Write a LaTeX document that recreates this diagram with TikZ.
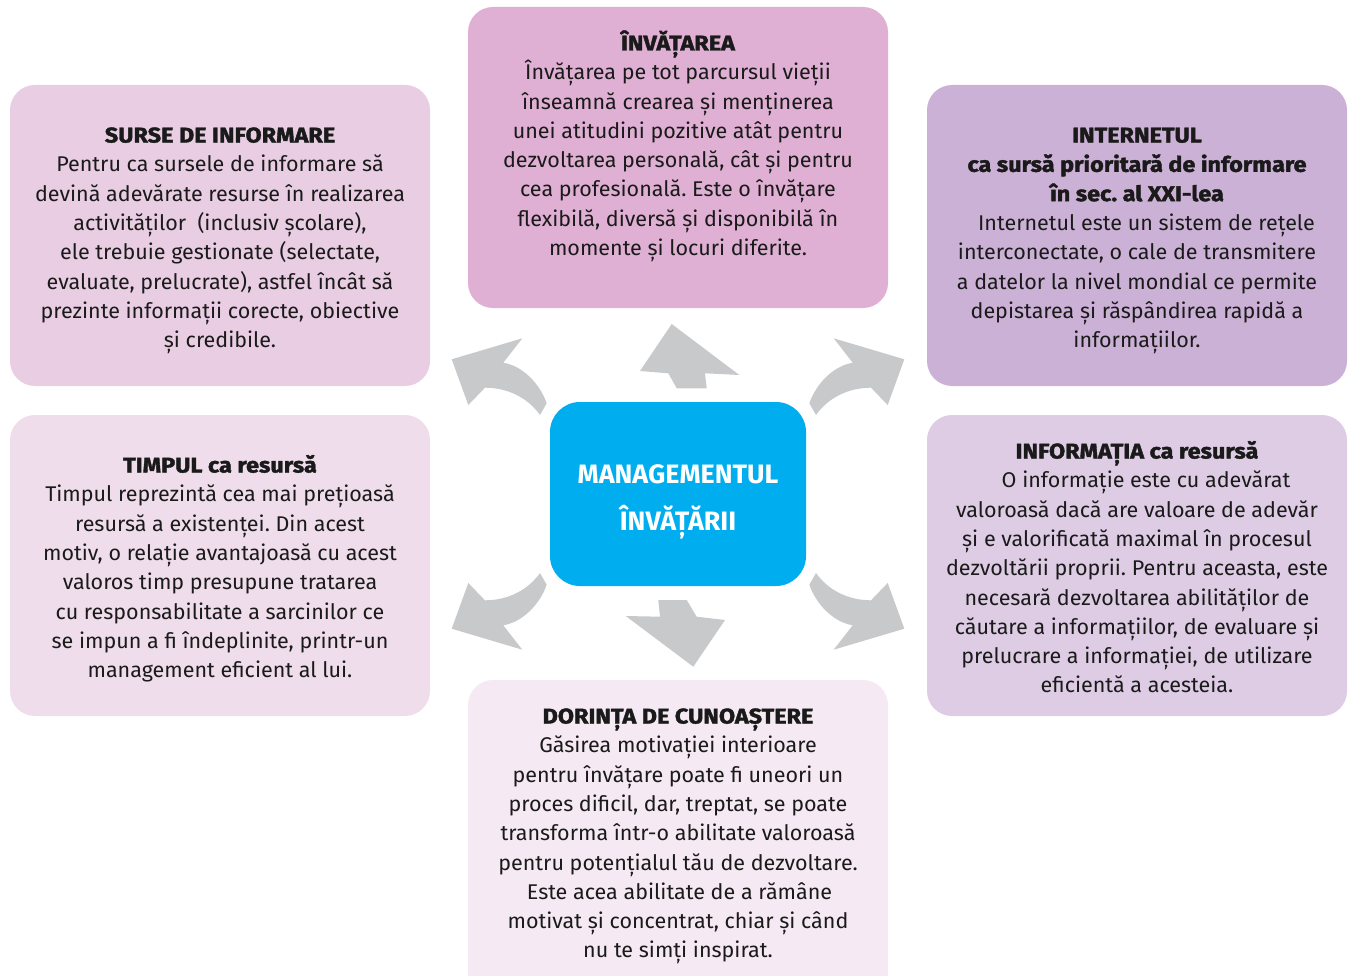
\documentclass[tikz,border=0pt]{standalone}
\usepackage{fontspec}
\setmainfont{Fira Sans}[FakeStretch=1.01]
\newfontfamily\headfont{Fira Sans}[FakeStretch=1.1, BoldFeatures={FakeBold=1.8}]
\frenchspacing
\definecolor{cTop}{HTML}{DFB0D3}
\definecolor{cSurse}{HTML}{E8CDE3}
\definecolor{cNet}{HTML}{CCB1D6}
\definecolor{cTimp}{HTML}{EFDDEB}
\definecolor{cInfo}{HTML}{DDCCE4}
\definecolor{cDor}{HTML}{F5E9F3}
\definecolor{cMid}{HTML}{00AEEF}
\definecolor{cArrow}{HTML}{C8C9CB}
\definecolor{cText}{HTML}{1A1A1A}
\newcommand{\hd}[1]{{\headfont\bfseries #1}}
\tikzset{
  box/.style={rectangle, rounded corners=25pt, minimum width=420pt, minimum height=301pt, inner sep=0pt, draw=none},
  txt/.style={anchor=north, inner sep=0pt, align=center, text=cText, font=\fontsize{21.3}{29.3}\selectfont\frenchspacing},
  curvarrow/.pic={
    \fill[cArrow] (-226.3,-134.7) -- (-155.7,-155.7) -- (-174.7,-131.3)
      .. controls (-155,-128) and (-138,-110) .. (-131.3,-90.7)
      -- (-138,-79)
      .. controls (-150,-96) and (-170,-106.3) .. (-193,-106.3)
      -- (-209.7,-89) -- cycle;
  }
}
\begin{document}
\begin{tikzpicture}[x=1pt,y=-1pt]
\useasboundingbox (0,0) rectangle (1354,976);
\clip (0,0) rectangle (1354,976);
% boxes
\node[box, fill=cTop] (top) at (678,157.5) {};
\node[box, fill=cSurse] (surse) at (220,235.5) {};
\node[box, fill=cNet] (net) at (1137,235.5) {};
\node[box, fill=cTimp] (timp) at (220,565.5) {};
\node[box, fill=cInfo] (info) at (1137,565.5) {};
\node[box, fill=cDor, minimum height=340pt] (dor) at (678,850) {};
\node[rectangle, rounded corners=30pt, minimum width=256pt, minimum height=184pt, inner sep=0pt, fill=cMid] (mid) at (678,494) {};
% arrows
\pic at (678,494) {curvarrow};
\pic[xscale=-1] at (678,494) {curvarrow};
\pic[yscale=-1] at (678,494) {curvarrow};
\pic[xscale=-1,yscale=-1] at (678,494) {curvarrow};
\fill[cArrow] (671.7,324) -- (739.3,375) -- (705,373.3) -- (706.7,388.3) -- (676.7,388.3) -- (668.3,373.3) -- (640,371) -- cycle;
\fill[cArrow] (658.3,600) -- (686.7,600) -- (696.7,616.7) -- (725,620) -- (693.3,666.7) -- (625.7,616) -- (660,616.7) -- cycle;
% texts
\node[txt] (topT) at (678,28.3) {\rule{0pt}{22pt}\hd{ÎNVĂȚAREA}\\
Învățarea pe tot parcursul vieții\\
înseamnă crearea și menținerea\\
unei atitudini pozitive atât pentru\\
dezvoltarea personală, cât și pentru\\
cea profesională. Este o învățare\\
flexibilă, diversă și disponibilă în\\
momente și locuri diferite.};
\node[txt] (surseT) at (220,120.3) {\rule{0pt}{22pt}\hd{SURSE DE INFORMARE}\\
Pentru ca sursele de informare să\\
devină adevărate resurse în realizarea\\
activităților\ \ (inclusiv școlare),\\
ele trebuie gestionate (selectate,\\
evaluate, prelucrate), astfel încât să\\
prezinte informații corecte, obiective\\
și credibile.};
\node[txt] (netT) at (1137,120.3) {\rule{0pt}{22pt}\hd{INTERNETUL}\\
\hd{ca sursă prioritară de informare}\\
\hd{în sec. al XXI-lea}\\
\hspace*{19pt}Internetul este un sistem de rețele\\
interconectate, o cale de transmitere\\
a datelor la nivel mondial ce permite\\
depistarea și răspândirea rapidă a\\
informațiilor.};
\node[txt] (timpT) at (220,450.3) {\rule{0pt}{22pt}\hd{TIMPUL ca resursă}\\
Timpul reprezintă cea mai prețioasă\\
resursă a existenței. Din acest\\
motiv, o relație avantajoasă cu acest\\
valoros timp presupune tratarea\\
cu responsabilitate a sarcinilor ce\\
se impun a fi îndeplinite, printr-un\\
management eficient al lui.};
\node[txt] (infoT) at (1137,436.3) {\rule{0pt}{22pt}\hd{INFORMAȚIA ca resursă}\\
\hspace*{18pt}O informație este cu adevărat\\
valoroasă dacă are valoare de adevăr\\
și e valorificată maximal în procesul\\
dezvoltării proprii. Pentru aceasta, este\\
necesară dezvoltarea abilităților de\\
căutare a informațiilor, de evaluare și\\
prelucrare a informației, de utilizare\\
eficientă a acesteia.};
\node[txt] (dorT) at (678,701.3) {\rule{0pt}{22pt}\hd{DORINȚA DE CUNOAȘTERE}\\
Găsirea motivației interioare\\
pentru învățare poate fi uneori un\\
proces dificil, dar, treptat, se poate\\
transforma într-o abilitate valoroasă\\
pentru potențialul tău de dezvoltare.\\
\hspace*{3pt}Este acea abilitate de a rămâne\\
motivat și concentrat, chiar și când\\
nu te simți inspirat.};
\node[anchor=north, inner sep=0pt, align=center, text=white, font=\fontsize{26.6}{47.4}\selectfont\bfseries] (midT) at (678,457.3) {\rule{0pt}{26pt}MANAGEMENTUL\\ÎNVĂȚĂRII};
\end{tikzpicture}
\end{document}
